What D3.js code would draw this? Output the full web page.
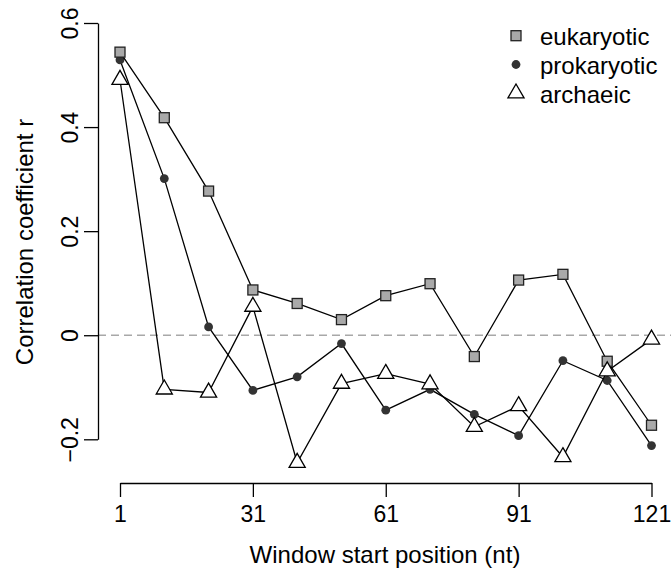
<!DOCTYPE html>
<html>
<head>
<meta charset="utf-8">
<script src="https://cdn.jsdelivr.net/npm/d3@7"></script>
<style>
	body { margin: 0; background: #fff; }
	svg { display: block; }
	text { font-family: "Liberation Sans", Arial, Helvetica, sans-serif; fill: #000; }
</style>
</head>
<body>
<div id="chart"></div>
<script>
// window start positions (nt)
var positions = [1, 11, 21, 31, 41, 51, 61, 71, 81, 91, 101, 111, 121];

// correlation coefficient r per window
var eukaryotic = [0.544, 0.418, 0.277, 0.087, 0.061, 0.030, 0.076, 0.099, -0.041, 0.106, 0.117, -0.050, -0.173];
var prokaryotic = [0.529, 0.301, 0.016, -0.106, -0.080, -0.016, -0.144, -0.104, -0.152, -0.193, -0.049, -0.087, -0.212];
var archaeic = [0.491, -0.104, -0.110, 0.055, -0.245, -0.093, -0.074, -0.094, -0.176, -0.136, -0.234, -0.069, -0.008];

var xTicks = [1, 31, 61, 91, 121];
var yTicks = [-0.2, 0, 0.2, 0.4, 0.6];
var seriesNames = ['eukaryotic', 'prokaryotic', 'archaeic'];

var width = 671,
	height = 578;

var plot = { left: 98, right: 672, top: 1, bottom: 483 };

var xScale = d3.scaleLinear().domain([1, 121]).range([120, 651.5]);
var yScale = d3.scaleLinear().domain([-0.2, 0.6]).range([439.3, 23]);

var svg = d3.select('#chart').append('svg')
	.attr('width', width)
	.attr('height', height);

svg.append('rect')
	.attr('width', width)
	.attr('height', height)
	.attr('fill', '#fff');

// dashed zero line
svg.append('line')
	.attr('x1', plot.left)
	.attr('x2', plot.right)
	.attr('y1', yScale(0))
	.attr('y2', yScale(0))
	.attr('stroke', '#a8a8a8')
	.attr('stroke-width', 1.4)
	.attr('stroke-dasharray', '8,5');

// x axis
var xAxis = d3.axisBottom(xScale)
	.tickValues(xTicks)
	.tickFormat(d3.format('d'))
	.tickSize(14)
	.tickSizeOuter(0);

var xAxisG = svg.append('g')
	.attr('transform', 'translate(0,' + plot.bottom + ')')
	.call(xAxis);

xAxisG.select('.domain').attr('stroke', '#000').attr('stroke-width', 1.3);
xAxisG.selectAll('.tick line').attr('stroke', '#000').attr('stroke-width', 1.3);
xAxisG.selectAll('.tick text')
	.attr('y', 39)
	.attr('dy', 0)
	.attr('font-size', 23)
	.attr('font-family', null);

// y axis
var yAxis = d3.axisLeft(yScale)
	.tickValues(yTicks)
	.tickFormat(function(d) { return d === 0 ? '0' : d3.format('.1f')(d); })
	.tickSize(14)
	.tickSizeOuter(0);

var yAxisG = svg.append('g')
	.attr('transform', 'translate(' + plot.left + ',0)')
	.call(yAxis);

yAxisG.select('.domain').attr('stroke', '#000').attr('stroke-width', 1.3);
yAxisG.selectAll('.tick line').attr('stroke', '#000').attr('stroke-width', 1.3);
yAxisG.selectAll('.tick text')
	.attr('x', 0)
	.attr('dy', 0)
	.attr('transform', 'translate(-20,0) rotate(-90)')
	.style('text-anchor', 'middle')
	.attr('font-size', 23)
	.attr('font-family', null);

// axis titles
svg.append('text')
	.attr('x', (plot.left + plot.right) / 2)
	.attr('y', 563)
	.attr('text-anchor', 'middle')
	.attr('font-size', 24)
	.text('Window start position (nt)');

svg.append('text')
	.attr('transform', 'translate(33,' + ((plot.top + plot.bottom) / 2) + ') rotate(-90)')
	.attr('text-anchor', 'middle')
	.attr('font-size', 24)
	.text('Correlation coefficient r');

// marker drawers
var triR = 9.3;
var triPath = 'M0,' + (-triR) +
	'L' + (triR * Math.sqrt(3) / 2) + ',' + (triR / 2) +
	'L' + (-triR * Math.sqrt(3) / 2) + ',' + (triR / 2) + 'Z';

function drawMarker(g, type) {
	if (type === 'eukaryotic') {
		g.append('rect')
			.attr('x', -5).attr('y', -5)
			.attr('width', 10).attr('height', 10)
			.attr('fill', '#a9a9a9')
			.attr('stroke', '#222')
			.attr('stroke-width', 1.3);
	} else if (type === 'prokaryotic') {
		g.append('circle')
			.attr('r', 4.4)
			.attr('fill', '#333');
	} else {
		g.append('path')
			.attr('d', triPath)
			.attr('fill', '#fff')
			.attr('stroke', '#000')
			.attr('stroke-width', 1.3);
	}
}

var line = d3.line()
	.x(function(d) { return xScale(d.x); })
	.y(function(d) { return yScale(d.y); });

var series = [
	{ name: 'prokaryotic', values: prokaryotic },
	{ name: 'eukaryotic', values: eukaryotic },
	{ name: 'archaeic', values: archaeic }
];

series.forEach(function(s) {
	var data = positions.map(function(p, i) { return { x: p, y: s.values[i] }; });

	svg.append('path')
		.datum(data)
		.attr('d', line)
		.attr('fill', 'none')
		.attr('stroke', '#000')
		.attr('stroke-width', 1.3);

	svg.selectAll('.pt-' + s.name).data(data)
		.enter().append('g')
		.attr('class', 'pt-' + s.name)
		.attr('transform', function(d) { return 'translate(' + xScale(d.x) + ',' + yScale(d.y) + ')'; })
		.each(function() { drawMarker(d3.select(this), s.name); });
});

// legend
var legend = svg.append('g').attr('transform', 'translate(516,35.7)');

seriesNames.forEach(function(name, i) {
	var row = legend.append('g').attr('transform', 'translate(0,' + (i * 28.8) + ')');
	drawMarker(row, name);
	row.append('text')
		.attr('x', 24)
		.attr('y', 9.3)
		.attr('font-size', 24)
		.text(name);
});
</script>
</body>
</html>
